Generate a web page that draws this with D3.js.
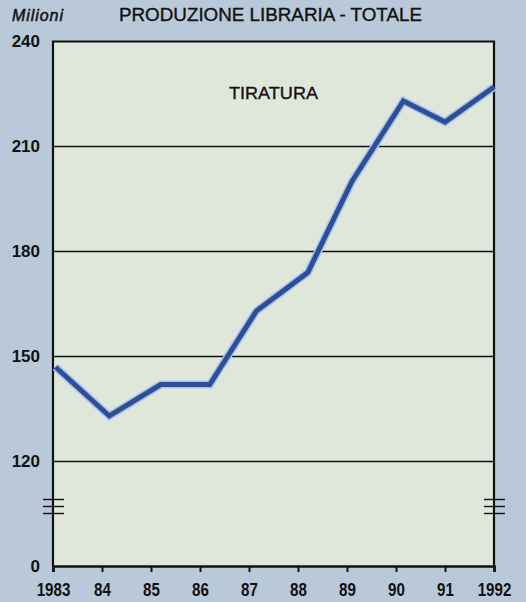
<!DOCTYPE html>
<html>
<head>
<meta charset="utf-8">
<script src="https://cdn.jsdelivr.net/npm/d3@7"></script>
<style>
  body { margin: 0; background: #b9c9d9; }
  svg { display: block; }
  text { font-family: "Liberation Sans", Arial, sans-serif; fill: #111; }
</style>
</head>
<body>
<div id="chart"></div>
<script>
// anno (posizione) e tiratura in milioni
var anni = [1983.05, 1984.15, 1985.2, 1986.2, 1987.15, 1988.2, 1989.1, 1990.15, 1991.0, 1992.0];
var tiratura = [147, 133, 142, 142, 163, 174, 200, 223, 217, 227];
var xTicks = [1983, 1984, 1985, 1986, 1987, 1988, 1989, 1990, 1991, 1992];
var xLabels = ["1983", "84", "85", "86", "87", "88", "89", "90", "91", "1992"];
var yTicks = [0, 120, 150, 180, 210, 240];

var width = 526, height = 602;
var margin = {top: 41.5, right: 32, bottom: 36, left: 53};

var svg = d3.select("#chart").append("svg")
  .attr("width", width)
  .attr("height", height);

var x = d3.scaleLinear()
  .domain([1983, 1992])
  .range([margin.left, width - margin.right]);

// asse spezzato: 0-120 compresso nello spazio di 30 unità
var y = d3.scaleLinear()
  .domain([0, 120, 240])
  .range([height - margin.bottom, 461.5, margin.top]);

// fondo area del grafico
svg.append("rect")
  .attr("x", x(1983))
  .attr("y", y(240))
  .attr("width", x(1992) - x(1983))
  .attr("height", y(0) - y(240))
  .attr("fill", "#dfe7db");

// griglia
svg.selectAll(".grid")
  .data([120, 150, 180, 210])
  .enter()
  .append("line")
  .attr("class", "grid")
  .attr("x1", x(1983))
  .attr("x2", x(1992))
  .attr("y1", function(d) { return y(d); })
  .attr("y2", function(d) { return y(d); })
  .attr("stroke", "#111")
  .attr("stroke-width", 1.6);

// cornice
svg.append("path")
  .attr("d", "M" + x(1983) + "," + y(0) + "V" + y(240) + "H" + x(1992) + "V" + y(0))
  .attr("fill", "none")
  .attr("stroke", "#111")
  .attr("stroke-width", 2.2);

// asse x
var xAxis = svg.append("g")
  .attr("transform", "translate(0," + y(0) + ")")
  .call(d3.axisBottom(x)
    .tickValues(xTicks)
    .tickSize(6)
    .tickPadding(11)
    .tickFormat(function(d, i) { return xLabels[i]; }));
xAxis.attr("font-family", null);
xAxis.select(".domain").attr("stroke", "#111").attr("stroke-width", 2.6);
xAxis.selectAll(".tick line").attr("stroke", "#111").attr("stroke-width", 2);
// caratteri stretti come nell'originale
xAxis.selectAll(".tick text")
  .attr("font-size", 18.5)
  .attr("font-weight", "bold")
  .attr("transform", "scale(0.82,1)")
  .attr("fill", "#111");

// asse y (solo etichette)
var yAxis = svg.append("g")
  .attr("transform", "translate(" + x(1983) + ",0)")
  .call(d3.axisLeft(y).tickValues(yTicks).tickSize(0).tickPadding(13));
yAxis.select(".domain").remove();
yAxis.attr("font-family", null);
yAxis.selectAll(".tick text")
  .attr("font-size", 17)
  .attr("font-weight", "bold")
  .attr("fill", "#111");

// segni di interruzione dell'asse
var breakY = [y(120) + 38, y(120) + 45, y(120) + 52];
[x(1983), x(1992)].forEach(function(cx) {
  svg.selectAll(null)
    .data(breakY)
    .enter()
    .append("line")
    .attr("x1", cx - 10)
    .attr("x2", cx + 11)
    .attr("y1", function(d) { return d; })
    .attr("y2", function(d) { return d; })
    .attr("stroke", "#111")
    .attr("stroke-width", 1.4);
});

// linea
var punti = anni.map(function(a, i) { return [a, tiratura[i]]; });
var line = d3.line()
  .x(function(d) { return x(d[0]); })
  .y(function(d) { return y(d[1]); });

svg.append("path")
  .datum(punti)
  .attr("d", line)
  .attr("fill", "none")
  .attr("stroke", "#a9c3ec")
  .attr("stroke-width", 8)
  .attr("stroke-linejoin", "miter");

svg.append("path")
  .datum(punti)
  .attr("d", line)
  .attr("fill", "none")
  .attr("stroke", "#2e4f96")
  .attr("stroke-width", 5)
  .attr("stroke-linejoin", "miter");

// testi
svg.append("text")
  .attr("x", 12)
  .attr("y", 21)
  .attr("font-size", 16)
  .attr("font-style", "italic")
  .attr("stroke", "#111")
  .attr("stroke-width", 0.5)
  .attr("textLength", 51)
  .text("Milioni");

svg.append("text")
  .attr("x", 119)
  .attr("y", 21)
  .attr("font-size", 18)
  .attr("stroke", "#111")
  .attr("stroke-width", 0.35)
  .attr("textLength", 303)
  .attr("lengthAdjust", "spacingAndGlyphs")
  .text("PRODUZIONE LIBRARIA - TOTALE");

svg.append("text")
  .attr("x", 229)
  .attr("y", 98.5)
  .attr("font-size", 16.5)
  .attr("stroke", "#111")
  .attr("stroke-width", 0.35)
  .attr("textLength", 89)
  .attr("lengthAdjust", "spacingAndGlyphs")
  .text("TIRATURA");
</script>
</body>
</html>
